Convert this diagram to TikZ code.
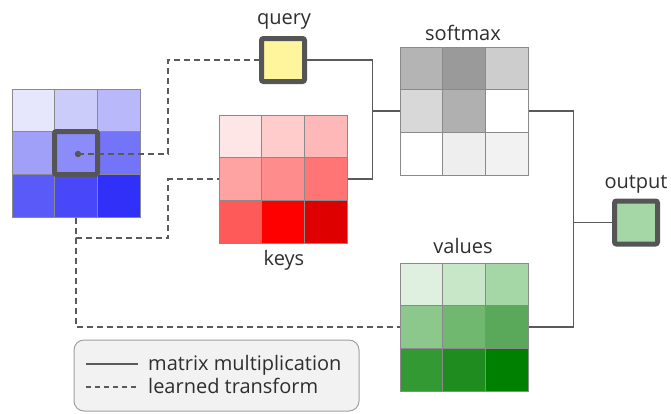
\documentclass[tikz,border=0pt]{standalone}
\usepackage{fontspec}
\setmainfont{Open Sans}

% cell colours of the three 3x3 grids
\definecolor{in1}{HTML}{E6E6FC}\definecolor{in2}{HTML}{CCCCFA}\definecolor{in3}{HTML}{B8B8FA}
\definecolor{in4}{HTML}{A0A0F8}\definecolor{in5}{HTML}{8C8CF8}\definecolor{in6}{HTML}{7474F8}
\definecolor{in7}{HTML}{5A5AF8}\definecolor{in8}{HTML}{4848F8}\definecolor{in9}{HTML}{3030F8}
\definecolor{k1}{HTML}{FFE6E6}\definecolor{k2}{HTML}{FFCCCC}\definecolor{k3}{HTML}{FFB8B8}
\definecolor{k4}{HTML}{FFA2A2}\definecolor{k5}{HTML}{FF8C8C}\definecolor{k6}{HTML}{FF7474}
\definecolor{k7}{HTML}{FF5A5A}\definecolor{k8}{HTML}{FF0000}\definecolor{k9}{HTML}{DE0000}
\definecolor{s1}{HTML}{B4B4B4}\definecolor{s2}{HTML}{9A9A9A}\definecolor{s3}{HTML}{CDCDCD}
\definecolor{s4}{HTML}{D8D8D8}\definecolor{s5}{HTML}{B0B0B0}\definecolor{s6}{HTML}{FFFFFF}
\definecolor{s7}{HTML}{FFFFFF}\definecolor{s8}{HTML}{EEEEEE}\definecolor{s9}{HTML}{F2F2F2}
\definecolor{v1}{HTML}{E0F0E0}\definecolor{v2}{HTML}{C8E6C8}\definecolor{v3}{HTML}{A5D6A5}
\definecolor{v4}{HTML}{8CC88C}\definecolor{v5}{HTML}{70B870}\definecolor{v6}{HTML}{5AA85A}
\definecolor{v7}{HTML}{339933}\definecolor{v8}{HTML}{1E8C1E}\definecolor{v9}{HTML}{008000}
\definecolor{cellline}{HTML}{8A8A8A}
\definecolor{ring}{HTML}{555555}
\definecolor{wire}{HTML}{5A5A5A}
\definecolor{labeltext}{HTML}{2E2E2E}
\definecolor{qfill}{HTML}{FFF59D}
\definecolor{ofill}{HTML}{A5D6A5}
\definecolor{legendfill}{HTML}{F2F2F2}
\definecolor{legendline}{HTML}{A0A0A0}

% 3x3 grid of cells: #1 left, #2 top, #3 list of nine colour names
\newcommand{\cellgrid}[3]{%
  \foreach \c [count=\i from 0] in {#3} {
    \pgfmathtruncatemacro\cx{mod(\i,3)}
    \pgfmathtruncatemacro\cy{div(\i,3)}
    \filldraw[fill=\c, draw=cellline, line width=1]
      ({#1+\cx*42.67},{#2+\cy*42.67}) rectangle ++(42.67,42.67);
  }}

\begin{document}
\begin{tikzpicture}[x=1pt, y=-1pt,
  gridbox/.style={draw=cellline, line width=1, minimum size=128, inner sep=0},
  vecbox/.style={draw=ring, line width=5, rounded corners=2, minimum size=43, inner sep=0},
  tag/.style={text=labeltext, font=\fontsize{20}{22}\selectfont, inner sep=0},
  matmul/.style={draw=wire, line width=1.5},
  learned/.style={draw=wire, line width=2, dash pattern=on 6 off 4},
]
\useasboundingbox (0,0) rectangle (671,413);

% grids
\cellgrid{12}{89}{in1,in2,in3,in4,in5,in6,in7,in8,in9}
\node[gridbox] (input) at (76,153) {};
\cellgrid{219}{115}{k1,k2,k3,k4,k5,k6,k7,k8,k9}
\node[gridbox] (keys) at (283,179) {};
\cellgrid{400}{47}{s1,s2,s3,s4,s5,s6,s7,s8,s9}
\node[gridbox] (softmax) at (464,111) {};
\cellgrid{400}{263}{v1,v2,v3,v4,v5,v6,v7,v8,v9}
\node[gridbox] (values) at (464,327) {};

% selected pixel, query vector and output vector
\node[vecbox] (focus) at (76,153) {};
\fill[ring] (78,154) coordinate (dot) circle (3.2);
\node[vecbox, fill=qfill] (query) at (283,60) {};
\node[vecbox, fill=ofill] (output) at (636,222.5) {};

% labels
\node[tag, anchor=base] at (284,24) {query};
\node[tag, anchor=base] at (284,265) {keys};
\node[tag, anchor=base] at (463,40) {softmax};
\node[tag, anchor=base] at (463,253) {values};
\node[tag, anchor=base] at (636,188) {output};

% learned transforms
\draw[learned] (dot) -- ++(90,0) |- (query.west);
\draw[learned] (input.south) |- (168,238) |- (keys.west);
\draw[learned] (input.south) |- (values.west);

% matrix multiplications
\path (softmax.west) ++(-27,0) coordinate (qk);
\path (softmax.east) ++(45,0) coordinate (sv);
\draw[matmul] (query.east) -| (qk) |- (keys.east);
\draw[matmul] (qk) -- (softmax.west);
\draw[matmul] (softmax.east) -- (sv) |- (values.east);
\draw[matmul] (sv |- output.west) -- (output.west);

% legend
\node[draw=legendline, fill=legendfill, line width=1, rounded corners=10,
      minimum width=285, minimum height=71, inner sep=0] (legend) at (216.5,375.5) {};
\draw[matmul] (86,364) -- (138,364);
\node[tag, anchor=base west] at (148,370) {matrix multiplication};
\draw[learned, line width=1.5, dash pattern=on 5 off 4] (86,387) -- (138,387);
\node[tag, anchor=base west] at (148,393) {learned transform};
\end{tikzpicture}
\end{document}
